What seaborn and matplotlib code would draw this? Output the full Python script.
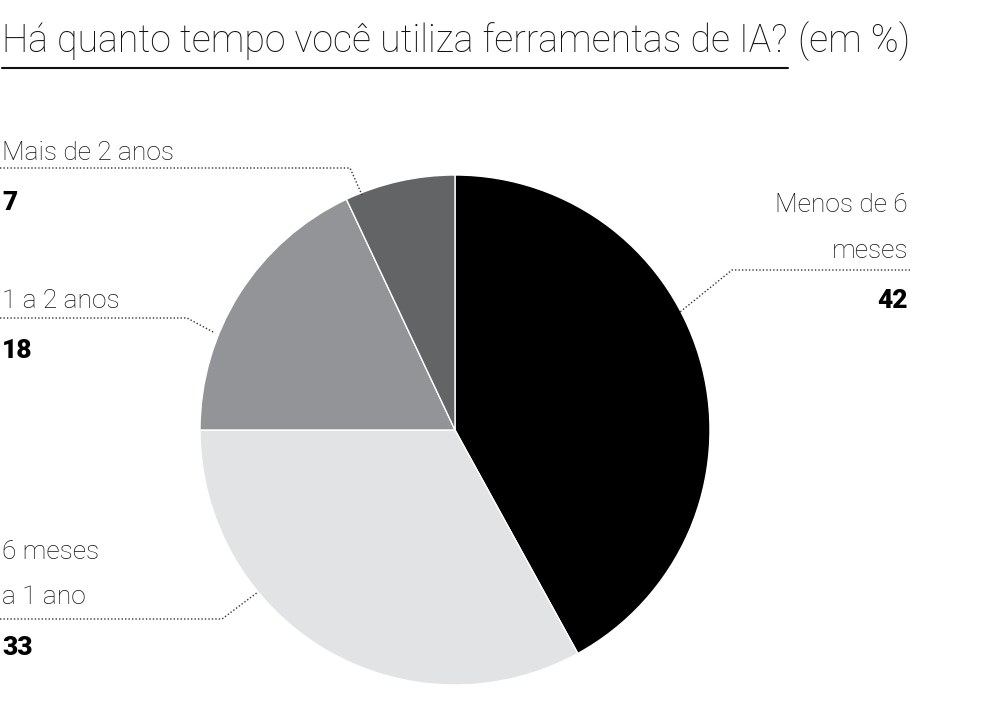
import matplotlib
matplotlib.use("Agg")
import matplotlib.pyplot as plt
import seaborn as sns

sns.set_theme(style="white")
plt.rcParams["font.family"] = ["Roboto", "DejaVu Sans"]

# data
categories = ["Menos de 6\nmeses", "6 meses\na 1 ano", "1 a 2 anos", "Mais de 2 anos"]
values = [42, 33, 18, 7]
colors = ["#000000", "#e2e3e5", "#939497", "#636466"]

W, H = 984, 706
fig = plt.figure(figsize=(W / 100, H / 100), dpi=100)

# pie, center ~ (455, 430) px, radius ~255 px
cx, cy, r = 455, 430, 255
ax = fig.add_axes([(cx - r) / W, (H - cy - r) / H, 2 * r / W, 2 * r / H])
ax.pie(values, colors=colors, startangle=90, counterclock=False, radius=1)
ax.set_xlim(-1, 1)
ax.set_ylim(-1, 1)
ax.axis("off")

# overlay in pixel coordinates for labels
ov = fig.add_axes([0, 0, 1, 1], facecolor="none")
ov.set_xlim(0, W)
ov.set_ylim(H, 0)
ov.axis("off")

title = ov.text(2, 52, "Há quanto tempo você utiliza ferramentas de IA?", fontsize=27,
                color="#111111", va="baseline", ha="left", fontweight="light")
fig.canvas.draw()
bb = title.get_window_extent()
x_end = bb.x1
ov.plot([2, x_end], [68, 68], color="#111111", lw=1.5)
ov.text(x_end + 10, 52, "(em %)", fontsize=27, color="#111111", va="baseline",
        ha="left", fontweight="light")

lab_kw = dict(fontsize=19, color="#111111", va="baseline", fontweight="light")
num_kw = dict(fontsize=19, color="#000000", va="baseline", fontweight="black")
dot_kw = dict(color="#333333", lw=1, ls=(0, (1, 1.5)))

# Mais de 2 anos
ov.text(2, 160, categories[3], ha="left", **lab_kw)
ov.text(2, 210, str(values[3]), ha="left", **num_kw)
ov.plot([0, 350, 362, ], [168, 168, 195], **dot_kw)

# 1 a 2 anos
ov.text(2, 308, categories[2], ha="left", **lab_kw)
ov.text(2, 358, str(values[2]), ha="left", **num_kw)
ov.plot([0, 187, 215], [318, 318, 333], **dot_kw)

# 6 meses a 1 ano
ov.text(2, 559, "6 meses", ha="left", **lab_kw)
ov.text(2, 604, "a 1 ano", ha="left", **lab_kw)
ov.text(2, 655, str(values[1]), ha="left", **num_kw)
ov.plot([0, 222, 258], [619, 619, 592], **dot_kw)

# Menos de 6 meses
ov.text(908, 212, "Menos de 6", ha="right", **lab_kw)
ov.text(908, 258, "meses", ha="right", **lab_kw)
ov.text(908, 308, str(values[0]), ha="right", **num_kw)
ov.plot([910, 732, 680], [270, 270, 312], **dot_kw)

fig.savefig("out.png", dpi=100, facecolor="white")
